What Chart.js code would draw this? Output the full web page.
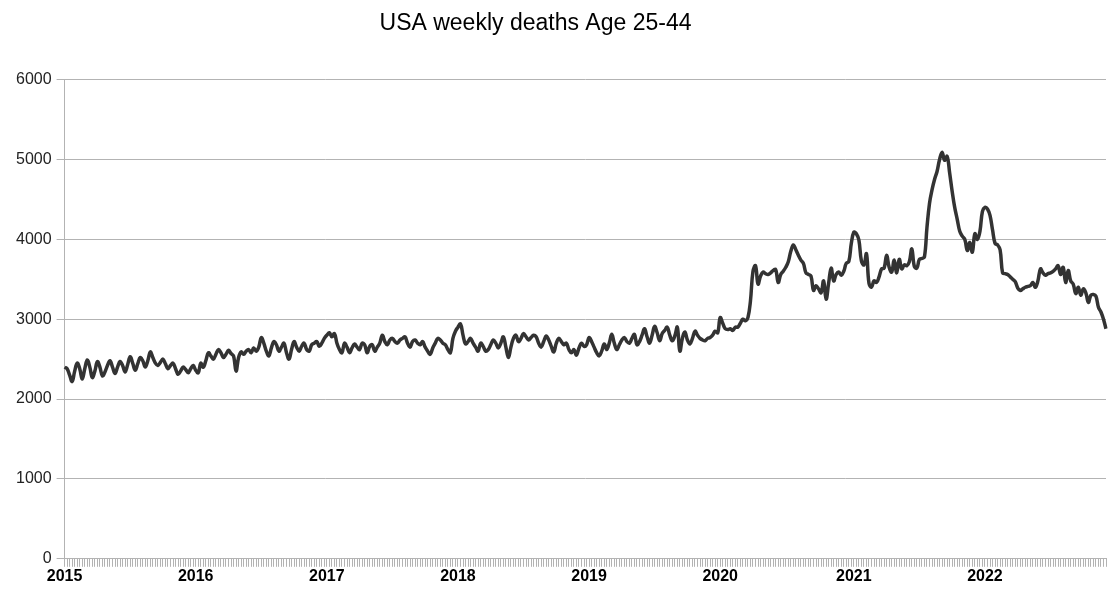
<!DOCTYPE html>
<html>
<head>
<meta charset="utf-8">
<script src="https://cdn.jsdelivr.net/npm/chart.js@4/dist/chart.umd.min.js"></script>
<style>
    body { margin: 0; background: #ffffff; }
</style>
</head>
<body>
<canvas id="deaths" width="1108" height="590"></canvas>
<script>
// Year tick labels
const years = ['2015', '2016', '2017', '2018', '2019', '2020', '2021', '2022'];

// Weekly deaths, age 25-44, one array per year
const deaths2015 = [2400, 2380, 2300, 2220, 2350, 2450, 2380, 2250, 2380, 2490, 2400, 2270, 2350, 2470, 2400, 2290,
    2340, 2420, 2480, 2400, 2320, 2400, 2470, 2420, 2340, 2430, 2530, 2450, 2360, 2440, 2520, 2480, 2400, 2480, 2590, 2520,
    2450, 2420, 2460, 2500, 2440, 2380, 2420, 2450, 2380, 2310, 2350, 2400, 2370, 2330, 2380, 2420];
const deaths2016 = [2360, 2330, 2450, 2400, 2480, 2580, 2540, 2500, 2560, 2620, 2580, 2520, 2560, 2610, 2570, 2540,
    2350, 2520, 2590, 2560, 2600, 2620, 2580, 2640, 2600, 2650, 2770, 2700, 2600, 2540, 2640, 2720, 2680, 2600, 2650, 2700,
    2580, 2500, 2620, 2720, 2650, 2600, 2660, 2700, 2620, 2600, 2680, 2700, 2720, 2660, 2700, 2760];
const deaths2017 = [2800, 2830, 2780, 2820, 2700, 2620, 2580, 2700, 2650, 2580, 2640, 2690, 2650, 2620, 2700, 2680,
    2580, 2660, 2680, 2600, 2650, 2700, 2800, 2720, 2680, 2740, 2760, 2720, 2700, 2740, 2760, 2780, 2700, 2650, 2720, 2740,
    2700, 2680, 2720, 2650, 2600, 2560, 2640, 2700, 2760, 2740, 2700, 2680, 2620, 2580, 2760, 2850];
const deaths2018 = [2900, 2940, 2800, 2690, 2720, 2760, 2700, 2650, 2600, 2700, 2660, 2600, 2620, 2680, 2740, 2700,
    2640, 2700, 2780, 2650, 2520, 2650, 2760, 2800, 2720, 2760, 2820, 2780, 2740, 2770, 2800, 2780, 2700, 2650, 2720, 2790,
    2740, 2660, 2590, 2700, 2760, 2720, 2680, 2700, 2620, 2580, 2620, 2550, 2640, 2700, 2660, 2680];
const deaths2019 = [2770, 2720, 2650, 2580, 2540, 2600, 2690, 2620, 2700, 2810, 2700, 2620, 2680, 2740, 2770, 2720,
    2700, 2760, 2810, 2680, 2720, 2800, 2880, 2780, 2700, 2800, 2910, 2830, 2730, 2820, 2860, 2900, 2800, 2730, 2790, 2900,
    2600, 2760, 2840, 2740, 2690, 2760, 2850, 2800, 2760, 2740, 2730, 2760, 2770, 2800, 2850, 2830];
const deaths2020 = [3020, 2950, 2880, 2870, 2880, 2860, 2900, 2900, 2950, 3000, 2980, 3020, 3230, 3600, 3670, 3440,
    3540, 3590, 3570, 3560, 3580, 3610, 3620, 3460, 3560, 3600, 3650, 3720, 3850, 3930, 3870, 3800, 3740, 3700, 3580, 3560,
    3540, 3360, 3420, 3380, 3330, 3480, 3250, 3450, 3640, 3480, 3560, 3590, 3550, 3600, 3700, 3720, 3950];
const deaths2021 = [4090, 4070, 3990, 3730, 3680, 3820, 3450, 3400, 3480, 3460, 3530, 3630, 3640, 3800, 3650, 3590,
    3740, 3580, 3750, 3630, 3680, 3670, 3720, 3880, 3660, 3640, 3750, 3760, 3780, 4150, 4450, 4620, 4750, 4850, 5000, 5090,
    4990, 5040, 4830, 4600, 4400, 4250, 4100, 4040, 4000, 3860, 3960, 3840, 4070, 4000, 4100, 4350];
const deaths2022 = [4400, 4380, 4300, 4120, 3950, 3930, 3870, 3580, 3570, 3560, 3530, 3500, 3470, 3390, 3360, 3380,
    3400, 3410, 3420, 3460, 3400, 3480, 3630, 3580, 3550, 3570, 3580, 3600, 3630, 3670, 3560, 3650, 3460, 3610, 3480, 3440,
    3320, 3400, 3300, 3380, 3330, 3210, 3300, 3310, 3290, 3150, 3090, 3000, 2880];

const yearlyDeaths = [deaths2015, deaths2016, deaths2017, deaths2018, deaths2019, deaths2020, deaths2021, deaths2022];

// Build one label per week, e.g. 2016-W01
const weekLabels = [];
const weeklyDeaths = [];
yearlyDeaths.forEach((values, y) => {
    values.forEach((v, w) => {
        weekLabels.push(years[y] + '-W' + String(w + 1).padStart(2, '0'));
        weeklyDeaths.push(v);
    });
});

const gridColor = '#b3b3b3';

// The original title sits a little left of the canvas centre
const shiftTitle = {
    id: 'shiftTitle',
    afterLayout: (chart) => {
        if (chart.titleBlock) {
            chart.titleBlock.right -= 46;
        }
    }
};

// CHART DATA
const chartdata = {
    labels: weekLabels,
    datasets: [{
        label: 'Age 25-44',
        data: weeklyDeaths,
        borderColor: '#333333',
        borderWidth: 3.5,
        pointRadius: 0,
        tension: 0.4,
        fill: false
    }]
};

// CHART OPTIONS
const chartconfig = {
    type: 'line',
    data: chartdata,
    plugins: [shiftTitle],
    options: {
        responsive: false,
        animation: false,
        layout: {
            padding: { left: 11, right: 2, bottom: 4 }
        },
        scales: {
            x: {
                offset: false,
                border: { color: gridColor },
                grid: {
                    drawOnChartArea: false,
                    drawTicks: true,
                    tickLength: 8,
                    color: gridColor
                },
                ticks: {
                    autoSkip: false,
                    maxRotation: 0,
                    padding: 0,
                    color: '#000000',
                    font: { family: 'Liberation Sans', size: 16, weight: 'bold' },
                    callback: (val, i) => weekLabels[i].endsWith('-W01') ? weekLabels[i].slice(0, 4) : ''
                }
            },
            y: {
                min: 0,
                max: 6000,
                border: { color: gridColor },
                grid: {
                    color: gridColor,
                    tickLength: 8
                },
                ticks: {
                    stepSize: 1000,
                    padding: 5,
                    color: '#222222',
                    font: { family: 'Liberation Sans', size: 16 },
                    callback: (val) => String(val)
                }
            }
        },
        plugins: {
            legend: { display: false },
            tooltip: { enabled: false },
            title: {
                display: true,
                text: 'USA weekly deaths Age 25-44',
                color: '#000000',
                font: { family: 'Liberation Sans', size: 23, weight: 'normal' },
                padding: { top: 10, bottom: 42 }
            }
        }
    }
};

const canvas = document.getElementById('deaths');
if (canvas) {
    const chart = new Chart(canvas, chartconfig);
} else {
    console.error('Canvas element with ID "deaths" not found');
}
</script>
</body>
</html>
